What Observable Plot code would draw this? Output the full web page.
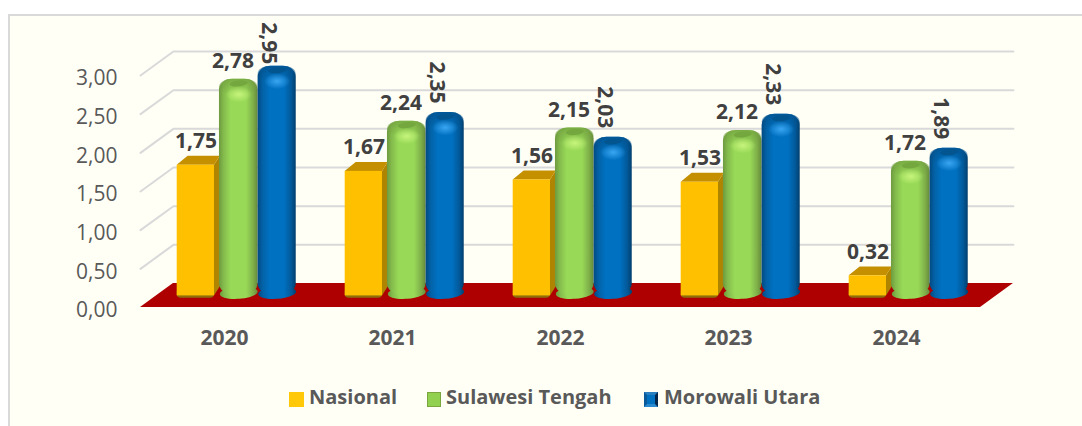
<!DOCTYPE html>
<html>
<head>
<meta charset="utf-8">
<script src="https://cdn.jsdelivr.net/npm/d3@7"></script>
<script src="https://cdn.jsdelivr.net/npm/@observablehq/plot@0.6"></script>
<style>
html,body{margin:0;padding:0;background:#fff;}
body{width:1082px;height:426px;overflow:hidden;position:relative;font-family:"Open Sans",sans-serif;}
#frame{position:absolute;left:8px;top:14px;right:-10px;bottom:-10px;border:2px solid #d9d9d9;background:#fffff6;box-sizing:border-box;}
#chart{position:absolute;left:0;top:0;}
#chart svg{background:transparent;overflow:visible;}
#legend{position:absolute;left:0;top:384px;width:1082px;height:26px;color:#595959;font-weight:700;font-size:20px;line-height:26px;}
#legend span{position:absolute;top:0;white-space:nowrap;}
#legend i{position:absolute;top:8px;height:15px;box-sizing:border-box;display:block;}
</style>
</head>
<body>
<div id="frame"></div>
<div id="chart"></div>
<div id="legend">
  <i style="left:289px;width:15px;background:#ffc90a"></i><span style="left:309px">Nasional</span>
  <i style="left:427px;width:14px;background:#92d050;border:1px solid #7ba63e"></i><span style="left:446px">Sulawesi Tengah</span>
  <i style="left:644px;width:14px;background:#0070c0;border-style:solid;border-width:3px;border-color:#2a7fc0 #03264a #2a8ad0 #0a5a9a"></i><span style="left:664px">Morowali Utara</span>
</div>
<script>
const years = [2020, 2021, 2022, 2023, 2024];
const nasional = [1.75, 1.67, 1.56, 1.53, 0.32];
const sulawesiTengah = [2.78, 2.24, 2.15, 2.12, 1.72];
const morowaliUtara = [2.95, 2.35, 2.03, 2.33, 1.89];
const yTicks = [0, 0.5, 1, 1.5, 2, 2.5, 3];

const fmt = v => v.toFixed(2).replace(".", ",");
const backX = 0.196, backY = 0.31;      // wall depth, in scale units
const idx = years.map((_, i) => i);

// grid: each line runs along the side wall, then the back wall
const grid = yTicks.slice(1).flatMap(v => [
  {x: 0, y: v, v}, {x: backX, y: v + backY, v}, {x: 5 + backX, y: v + backY, v}
]);
const floor = [
  {x1: 0, x2: 5, y: 0},
  {x1: backX, x2: 5 + backX, y: backY}
];

// Nasional: box
const yL = 0.2185, yR = 0.4405, yBase = 0.15, yTop = 0.09, boxD = 0.115;
const boxFront = idx.map(i => ({x1: i + yL, x2: i + yR, y1: yBase, y2: nasional[i] + yTop}));
const boxShadow = idx.map(i => ({x1: i + yL, x2: i + yR, y1: yBase - 0.03, y2: yBase + 0.1}));
const boxTop = idx.flatMap(i => [
  {i, x1: i + yL, x2: i + yR, y: nasional[i] + yTop},
  {i, x1: i + yL + 0.065, x2: i + yR + 0.0336, y: nasional[i] + yTop + boxD}
]);
const boxSide = idx.flatMap(i => [
  {i, x: i + yR, y1: yBase, y2: nasional[i] + yTop},
  {i, x: i + yR + 0.0336, y1: yBase + boxD, y2: nasional[i] + yTop + boxD}
]);

// cylinders
const cylBase = 0.115, cylTop = 0.17;
const cyl = (vals, a, b) => idx.map(i => ({
  x1: i + a, x2: i + b, cx: i + (a + b) / 2, y1: cylBase, y2: vals[i] + cylTop, top: vals[i] + cylTop
}));
const green = cyl(sulawesiTengah, 0.47, 0.70);
const blue = cyl(morowaliUtara, 0.70, 0.927);

// an ellipse as a Plot dot symbol
function ellipse(rx, ry, tilt = 0) {
  const t = tilt * Math.PI / 180, c = Math.cos(t), s = Math.sin(t), k = 0.5523;
  const P = (x, y) => [x * c - y * s, x * s + y * c];
  return {draw(ctx) {
    ctx.moveTo(...P(rx, 0));
    ctx.bezierCurveTo(...P(rx, k * ry), ...P(k * rx, ry), ...P(0, ry));
    ctx.bezierCurveTo(...P(-k * rx, ry), ...P(-rx, k * ry), ...P(-rx, 0));
    ctx.bezierCurveTo(...P(-rx, -k * ry), ...P(-k * rx, -ry), ...P(0, -ry));
    ctx.bezierCurveTo(...P(k * rx, -ry), ...P(rx, -k * ry), ...P(rx, 0));
    ctx.closePath();
  }};
}

function defs() {
  const d = d3.create("svg:defs");
  const lin = (id, stops) => {
    const g = d.append("linearGradient").attr("id", id);
    stops.forEach(([o, c]) => g.append("stop").attr("offset", o).attr("stop-color", c));
  };
  const rad = (id, c) => {
    const g = d.append("radialGradient").attr("id", id);
    g.append("stop").attr("offset", 0).attr("stop-color", c).attr("stop-opacity", 1);
    g.append("stop").attr("offset", 1).attr("stop-color", c).attr("stop-opacity", 0);
  };
  const shade = (id, c) => {
    const g = d.append("linearGradient").attr("id", id).attr("x1", 0).attr("x2", 0).attr("y1", 0).attr("y2", 1);
    g.append("stop").attr("offset", 0).attr("stop-color", c).attr("stop-opacity", 0.75);
    g.append("stop").attr("offset", 1).attr("stop-color", c).attr("stop-opacity", 0);
  };
  lin("cg", [[0, "#6d9a3f"], [0.12, "#84bb4c"], [0.3, "#98d957"], [0.7, "#98d957"], [0.88, "#7fb04a"], [1, "#66893a"]]);
  lin("cb", [[0, "#034a82"], [0.14, "#0363a8"], [0.3, "#0070c0"], [0.7, "#0070c0"], [0.88, "#02599a"], [1, "#023f6e"]]);
  rad("hg", "#c6f47c");
  rad("hb", "#3aa6f2");
  shade("sg", "#6f9c3e");
  shade("sb", "#034f88");
  return d.node();
}

function cylinder(data, body, capColor, hi, shade) {
  const sym = ellipse(19, 6, -4);
  return [
    Plot.dot(data, {x: "cx", y: d => d.y1 + 0.075, symbol: sym, fill: body, stroke: "none"}),
    Plot.rectY(data, {x1: "x1", x2: "x2", y1: d => d.y1 + 0.05, y2: "y2", fill: body, rx: 13, ry: 11}),
    Plot.rectY(data, {x1: "x1", x2: "x2", y1: d => d.y2 - 0.2, y2: "y2", fill: shade, rx: 13, ry: 11}),
    Plot.dot(data, {x: "cx", y: "top", dy: 4, symbol: ellipse(9, 3, -5), fill: capColor, stroke: "none"}),
    Plot.dot(data, {x: "cx", y: "top", dy: 15, symbol: ellipse(13, 8), fill: hi, stroke: "none"})
  ];
}

const labelStyle = {fontSize: 21, fontWeight: 700, fill: "#404040", stroke: "none"};

const plot = Plot.plot({
  width: 1082,
  height: 372,
  marginLeft: 140,
  marginRight: 102,
  marginTop: 75,
  marginBottom: 65,
  x: {domain: [0, 5], range: [140, 980]},
  y: {domain: [0, 3], range: [307, 75]},
  style: {fontFamily: "'Open Sans', sans-serif", background: "transparent", overflow: "visible"},
  marks: [
    defs,
    Plot.line(grid, {x: "x", y: "y", z: "v", stroke: "#d9d9d9", strokeWidth: 2}),
    Plot.areaX(floor, {x1: "x1", x2: "x2", y: "y", fill: "#ae0000", curve: "linear"}),
    Plot.axisY({ticks: yTicks, tickFormat: fmt, tickSize: 0, tickPadding: 23, dy: 3, fontSize: 21, fill: "#595959", label: null}),
    Plot.axisX({ticks: idx.map(i => i + 0.5), tickFormat: v => String(years[Math.floor(v)]), tickSize: 0, tickPadding: 23, fontSize: 21, fontWeight: 700, fill: "#595959", label: null}),

    Plot.rectY(boxShadow, {x1: "x1", x2: "x2", y1: "y1", y2: "y2", fill: "#8f6e0a", rx: 4}),
    Plot.areaY(boxSide, {x: "x", y1: "y1", y2: "y2", z: "i", fill: "#ae8400"}),
    Plot.areaX(boxTop, {x1: "x1", x2: "x2", y: "y", z: "i", fill: "#c49000"}),
    Plot.rectY(boxFront, {x1: "x1", x2: "x2", y1: "y1", y2: "y2", fill: "#ffc000"}),

    ...cylinder(green, "url(#cg)", "#74a83f", "url(#hg)", "url(#sg)"),
    ...cylinder(blue, "url(#cb)", "#03558f", "url(#hb)", "url(#sb)"),

    Plot.text(idx, {x: i => i + 0.33, y: i => nasional[i] + yTop, text: i => fmt(nasional[i]), dy: -24, ...labelStyle}),
    Plot.text(idx, {x: i => i + 0.55, y: i => sulawesiTengah[i] + cylTop, text: i => fmt(sulawesiTengah[i]), dy: -18, ...labelStyle}),
    Plot.text(idx, {x: i => i + 0.765, y: i => Math.min(morowaliUtara[i] + cylTop, 3.03), text: i => fmt(morowaliUtara[i]), dy: -30, rotate: 90, ...labelStyle})
  ]
});
document.getElementById("chart").appendChild(plot);
</script>
</body>
</html>
